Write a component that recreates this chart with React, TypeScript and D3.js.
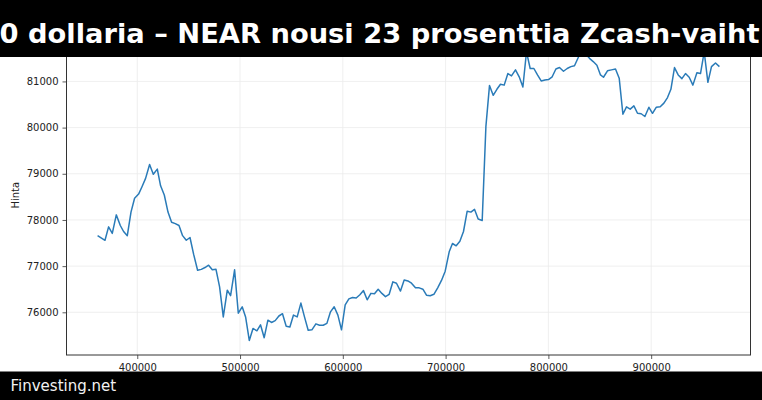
import React, { useEffect, useRef } from 'react';
import * as d3 from 'd3';

// sample position (x) and price (Hinta)
const xValues = [
  361400, 368600, 372100, 375700, 379600, 383500, 386700, 390300, 393900, 397400,
  401300, 404600, 408100, 412000, 415600, 419500, 422700, 426300, 429900, 433400,
  437000, 440600, 444100, 447700, 451300, 454800, 458700, 462300, 465900, 469400,
  473000, 476600, 480100, 483700, 487600, 490800, 494700, 498300, 502100, 505400,
  509000, 512600, 516400, 519900, 523500, 527100, 530600, 534200, 537800, 541300,
  544900, 548500, 552000, 555600, 559200, 562700, 566300, 569900, 573800, 577300,
  580900, 584500, 588000, 591600, 595200, 598700, 602300, 605900, 609400, 613000,
  616600, 620100, 623700, 627300, 630800, 634400, 638000, 641500, 645100, 648700,
  652200, 656100, 659700, 663300, 666800, 670700, 674300, 677900, 681400, 685000,
  688600, 692300, 696000, 699600, 703500, 706700, 710300, 713900, 717400, 721000,
  724600, 728100, 731700, 735600, 739200, 742700, 746300, 749900, 753400, 757000,
  760600, 764100, 768000, 771600, 775200, 778700, 782300, 785900, 789400, 793000,
  796600, 800100, 803700, 807300, 810800, 814700, 818300, 821900, 825400, 829300,
  832900, 836500, 840000, 843600, 847200, 850700, 853600, 857500, 861400, 865300,
  868900, 872500, 876000, 879600, 883200, 886700, 890300, 893900, 897800, 901300,
  904900, 908800, 912400, 915900, 919200, 922700, 926300, 929900, 933400, 937000,
  940600, 944500, 948000, 951600, 955200, 958700, 962600, 966400,
];

const priceValues = [
  77660, 77560, 77850, 77710, 78110, 77880, 77750, 77660, 78170, 78470,
  78560, 78720, 78900, 79200, 78990, 79100, 78740, 78540, 78170, 77950,
  77920, 77880, 77660, 77560, 77620, 77260, 76910, 76930, 76970, 77020,
  76920, 76930, 76550, 75900, 76480, 76360, 76920, 75980, 76120, 75900,
  75390, 75650, 75600, 75730, 75450, 75830, 75780, 75820, 75920, 75970,
  75700, 75680, 75940, 75900, 76200, 75900, 75610, 75620, 75750, 75720,
  75720, 75760, 76010, 76120, 75940, 75620, 76160, 76290, 76320, 76310,
  76380, 76470, 76270, 76410, 76400, 76500, 76410, 76340, 76390, 76660,
  76630, 76460, 76700, 76680, 76630, 76530, 76530, 76500, 76370, 76360,
  76390, 76530, 76690, 76890, 77310, 77490, 77440, 77540, 77750, 78190,
  78170, 78230, 78020, 77990, 80020, 80910, 80700, 80830, 80940, 80920,
  81170, 81120, 81250, 81100, 80880, 81640, 81280, 81280, 81140, 81010,
  81030, 81040, 81100, 81270, 81300, 81220, 81280, 81320, 81340, 81530,
  81680, 81590, 81500, 81430, 81350, 81140, 81090, 81230, 81250, 81270,
  81070, 80290, 80450, 80400, 80470, 80310, 80300, 80240, 80440, 80310,
  80440, 80450, 80530, 80650, 80830, 81300, 81140, 81060, 81170, 81090,
  80920, 81190, 81170, 81640, 80980, 81320, 81400, 81320,
];

const xTicks = [400000, 500000, 600000, 700000, 800000, 900000];
const yTicks = [76000, 77000, 78000, 79000, 80000, 81000];

const titleText = '0 dollaria – NEAR nousi 23 prosenttia Zcash-vaiht';
const sourceText = 'Finvesting.net';
const yLabel = 'Hinta';

export default function App() {
  const svgRef = useRef<SVGSVGElement>(null);

  useEffect(() => {
    if (!svgRef.current) return;

    d3.select(svgRef.current).selectAll('*').remove();

    const width = 762;
    const height = 400;
    const plot = { left: 66.5, right: 750.5, top: 35.5, bottom: 355 };

    const points = xValues.map((x, i) => ({ x, y: priceValues[i] }));

    // matplotlib-like 5% padding around data
    const [xMin, xMax] = d3.extent(xValues) as [number, number];
    const [yMin, yMax] = d3.extent(priceValues) as [number, number];
    const xPad = (xMax - xMin) * 0.05;
    const yPad = (yMax - yMin) * 0.05;

    const x = d3.scaleLinear()
      .domain([xMin - xPad, xMax + xPad])
      .range([plot.left, plot.right]);

    const y = d3.scaleLinear()
      .domain([yMin - yPad, yMax + yPad])
      .range([plot.bottom, plot.top]);

    const svg = d3.select(svgRef.current)
      .attr('width', width)
      .attr('height', height);

    svg.append('rect')
      .attr('width', width)
      .attr('height', height)
      .attr('fill', '#fff');

    // Grid
    svg.append('g')
      .selectAll('line')
      .data(xTicks)
      .join('line')
      .attr('x1', d => x(d))
      .attr('x2', d => x(d))
      .attr('y1', plot.top)
      .attr('y2', plot.bottom)
      .attr('stroke', '#ebebeb')
      .attr('stroke-width', 0.8);

    svg.append('g')
      .selectAll('line')
      .data(yTicks)
      .join('line')
      .attr('x1', plot.left)
      .attr('x2', plot.right)
      .attr('y1', d => y(d))
      .attr('y2', d => y(d))
      .attr('stroke', '#ebebeb')
      .attr('stroke-width', 0.8);

    // Price line
    svg.append('path')
      .datum(points)
      .attr('fill', 'none')
      .attr('stroke', '#2a7bb8')
      .attr('stroke-width', 1.5)
      .attr('stroke-linejoin', 'round')
      .attr('d', d3.line<{ x: number; y: number }>()
        .x(d => x(d.x))
        .y(d => y(d.y))
      );

    // Axes
    const xAxis = svg.append('g')
      .attr('transform', `translate(0,${plot.bottom})`)
      .call(d3.axisBottom(x).tickValues(xTicks).tickFormat(d3.format('d')).tickSize(4).tickPadding(4.5));

    const yAxis = svg.append('g')
      .attr('transform', `translate(${plot.left},0)`)
      .call(d3.axisLeft(y).tickValues(yTicks).tickFormat(d3.format('d')).tickSize(4).tickPadding(4));

    [xAxis, yAxis].forEach(ax => {
      ax.select('.domain').remove();
      ax.selectAll('line').attr('stroke', '#333').attr('stroke-width', 0.8);
      ax.selectAll('text')
        .attr('fill', '#222')
        .style('font-family', '"DejaVu Sans", sans-serif')
        .style('font-size', '10px');
    });

    // Frame
    svg.append('rect')
      .attr('x', plot.left)
      .attr('y', plot.top)
      .attr('width', plot.right - plot.left)
      .attr('height', plot.bottom - plot.top)
      .attr('fill', 'none')
      .attr('stroke', '#333')
      .attr('stroke-width', 1);

    svg.append('text')
      .attr('transform', `translate(19,${(plot.top + plot.bottom) / 2}) rotate(-90)`)
      .attr('text-anchor', 'middle')
      .attr('fill', '#222')
      .style('font-family', '"DejaVu Sans", sans-serif')
      .style('font-size', '10px')
      .text(yLabel);

    // Title banner
    svg.append('rect')
      .attr('x', 0)
      .attr('y', 0)
      .attr('width', width)
      .attr('height', 57)
      .attr('fill', '#000');

    svg.append('text')
      .attr('x', -0.5)
      .attr('y', 42.7)
      .attr('fill', '#fff')
      .style('font-family', '"DejaVu Sans", sans-serif')
      .style('font-weight', 'bold')
      .style('font-size', '27.3px')
      .text(titleText);

    // Source banner
    svg.append('rect')
      .attr('x', 0)
      .attr('y', 371.5)
      .attr('width', width)
      .attr('height', height - 371.5)
      .attr('fill', '#000');

    svg.append('text')
      .attr('x', 10.5)
      .attr('y', 391)
      .attr('fill', '#f2f2f2')
      .style('font-family', '"DejaVu Sans", sans-serif')
      .style('font-size', '15px')
      .text(sourceText);
  }, []);

  return (
    <svg
      ref={svgRef}
      style={{ position: 'fixed', left: 0, top: 0, display: 'block' }}
    />
  );
}
